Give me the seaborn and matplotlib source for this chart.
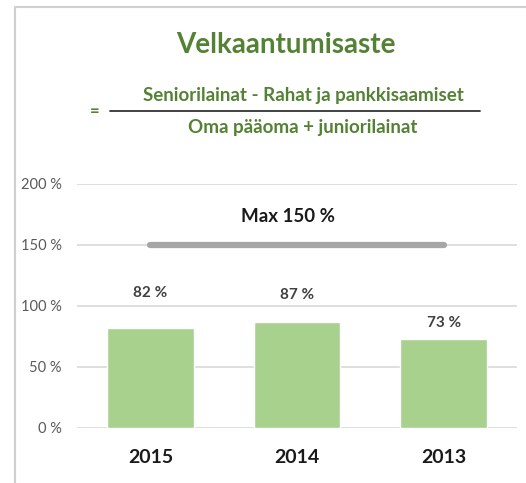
import seaborn as sns
import pandas as pd
import matplotlib.pyplot as plt
from matplotlib.lines import Line2D

years = ["2015", "2014", "2013"]
ratios = [82, 87, 73]
max_limit = 150
yticks = [0, 50, 100, 150, 200]

df = pd.DataFrame({"Vuosi": years, "Velkaantumisaste": ratios})

sns.set_style("white")
plt.rcParams['font.family'] = ['Lato', 'DejaVu Sans']

fig = plt.figure(figsize=(5.26, 4.83), dpi=100)
ax = fig.add_axes([0.1464, 0.1139, 0.8366, 0.5052])

sns.barplot(x="Vuosi", y="Velkaantumisaste", data=df, color="#a9d18e",
            width=0.59, saturation=1, ax=ax, zorder=3)

# max line
ax.plot([0, 2], [max_limit, max_limit], color="#a6a6a6", lw=4.5,
        solid_capstyle="round", zorder=4)
ax.text(0.94, max_limit + 23, "Max 150 %", ha="center", va="center",
        fontsize=13.5, fontweight="bold", color="#1a1a1a")

# value labels (offsets as placed in the original)
label_gap = [29, 22, 13]
for i, v in enumerate(ratios):
    ax.text(i, v + label_gap[i], f"{v} %", ha="center", va="center",
            fontsize=11, fontweight="bold", color="#404040")

ax.set_ylim(0, 200)
ax.set_xlim(-0.5, 2.5)
ax.set_yticks(yticks)
ax.set_yticklabels([f"{t} %" for t in yticks], color="#595959", fontsize=10.5)
ax.yaxis.grid(True, color="#d9d9d9", lw=1.2, zorder=0)
ax.set_axisbelow(True)
ax.tick_params(axis="both", length=0)
ax.tick_params(axis="y", pad=11)
ax.tick_params(axis="x", pad=15)
for lbl in ax.get_xticklabels():
    lbl.set_fontsize(14)
    lbl.set_fontweight("bold")
    lbl.set_color("#1a1a1a")
ax.set_xlabel("")
ax.set_ylabel("")
for s in ax.spines.values():
    s.set_visible(False)

# title and formula
green = "#548235"
fig.text(286 / 526, 1 - 45 / 483, "Velkaantumisaste", ha="center", va="center",
         fontsize=20, fontweight="bold", color=green)
fig.text(303 / 526, 1 - 96 / 483, "Seniorilainat - Rahat ja pankkisaamiset",
         ha="center", va="center", fontsize=13.5, fontweight="bold", color=green)
fig.text(303 / 526, 1 - 127 / 483, "Oma pääoma + juniorilainat",
         ha="center", va="center", fontsize=13.5, fontweight="bold", color=green)
fig.text(95 / 526, 1 - 111 / 483, "=", ha="center", va="center",
         fontsize=12, fontweight="bold", color=green)
fig.add_artist(Line2D([110 / 526, 480 / 526], [1 - 111 / 483, 1 - 111 / 483],
                      color="#333333", lw=1.3))

# outer border
fig.add_artist(Line2D([15 / 526, 15 / 526], [0, 1 - 7 / 483], color="#d0d0d0", lw=1.5))
fig.add_artist(Line2D([15 / 526, 1], [1 - 7 / 483, 1 - 7 / 483], color="#d0d0d0", lw=1.5))

fig.savefig("out.png", dpi=100)
